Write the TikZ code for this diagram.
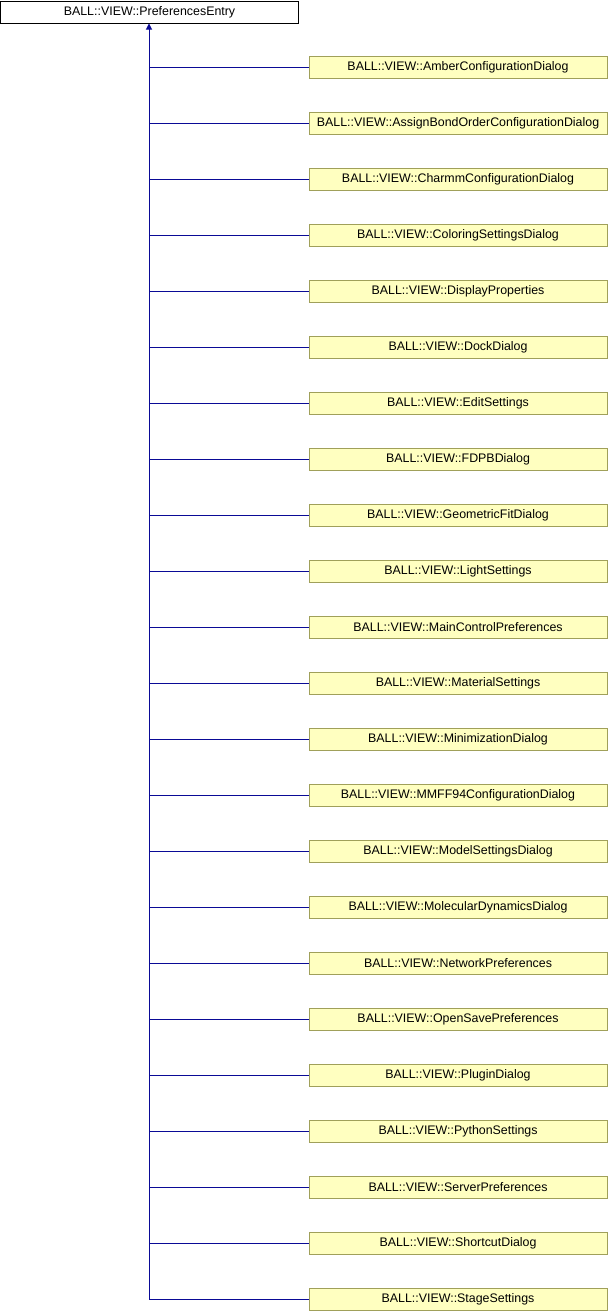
\documentclass[tikz,border=0pt]{standalone}
\usepackage{fontspec}
\setmainfont{Liberation Sans}
\usetikzlibrary{arrows.meta}
\definecolor{boxfill}{RGB}{255,255,192}
\definecolor{boxline}{RGB}{160,160,90}
\definecolor{edgeblue}{RGB}{10,10,150}
\tikzset{
  base/.style={draw=black, fill=white, line width=1pt, minimum width=298pt, minimum height=22pt, inner sep=0pt, font=\fontsize{12.4}{14}\selectfont},
  child/.style={draw=boxline, fill=boxfill, line width=1pt, minimum width=298pt, minimum height=22pt, inner sep=0pt, font=\fontsize{12.4}{14}\selectfont},
  edge/.style={draw=edgeblue, line width=1pt},
}
\begin{document}
\begin{tikzpicture}[x=1pt,y=-1pt]
\useasboundingbox (0,0) rectangle (608,1312);
\node[base] (root) at (149.5,12) {BALL::VIEW::PreferencesEntry};
\coordinate (trunk) at (149,1299.5);
\foreach \n [count=\i from 0] in {AmberConfigurationDialog,AssignBondOrderConfigurationDialog,CharmmConfigurationDialog,ColoringSettingsDialog,DisplayProperties,DockDialog,EditSettings,FDPBDialog,GeometricFitDialog,LightSettings,MainControlPreferences,MaterialSettings,MinimizationDialog,MMFF94ConfigurationDialog,ModelSettingsDialog,MolecularDynamicsDialog,NetworkPreferences,OpenSavePreferences,PluginDialog,PythonSettings,ServerPreferences,ShortcutDialog,StageSettings}{
  \node[child] (c\i) at (458, 67.5+56*\i) {BALL::VIEW::\n};
  \draw[edge] (c\i.west) -- (149, 67.5+56*\i);
}
\draw[edge, -{Triangle[length=6pt,width=6pt]}] (trunk) -- (root.south -| trunk);
\end{tikzpicture}
\end{document}
